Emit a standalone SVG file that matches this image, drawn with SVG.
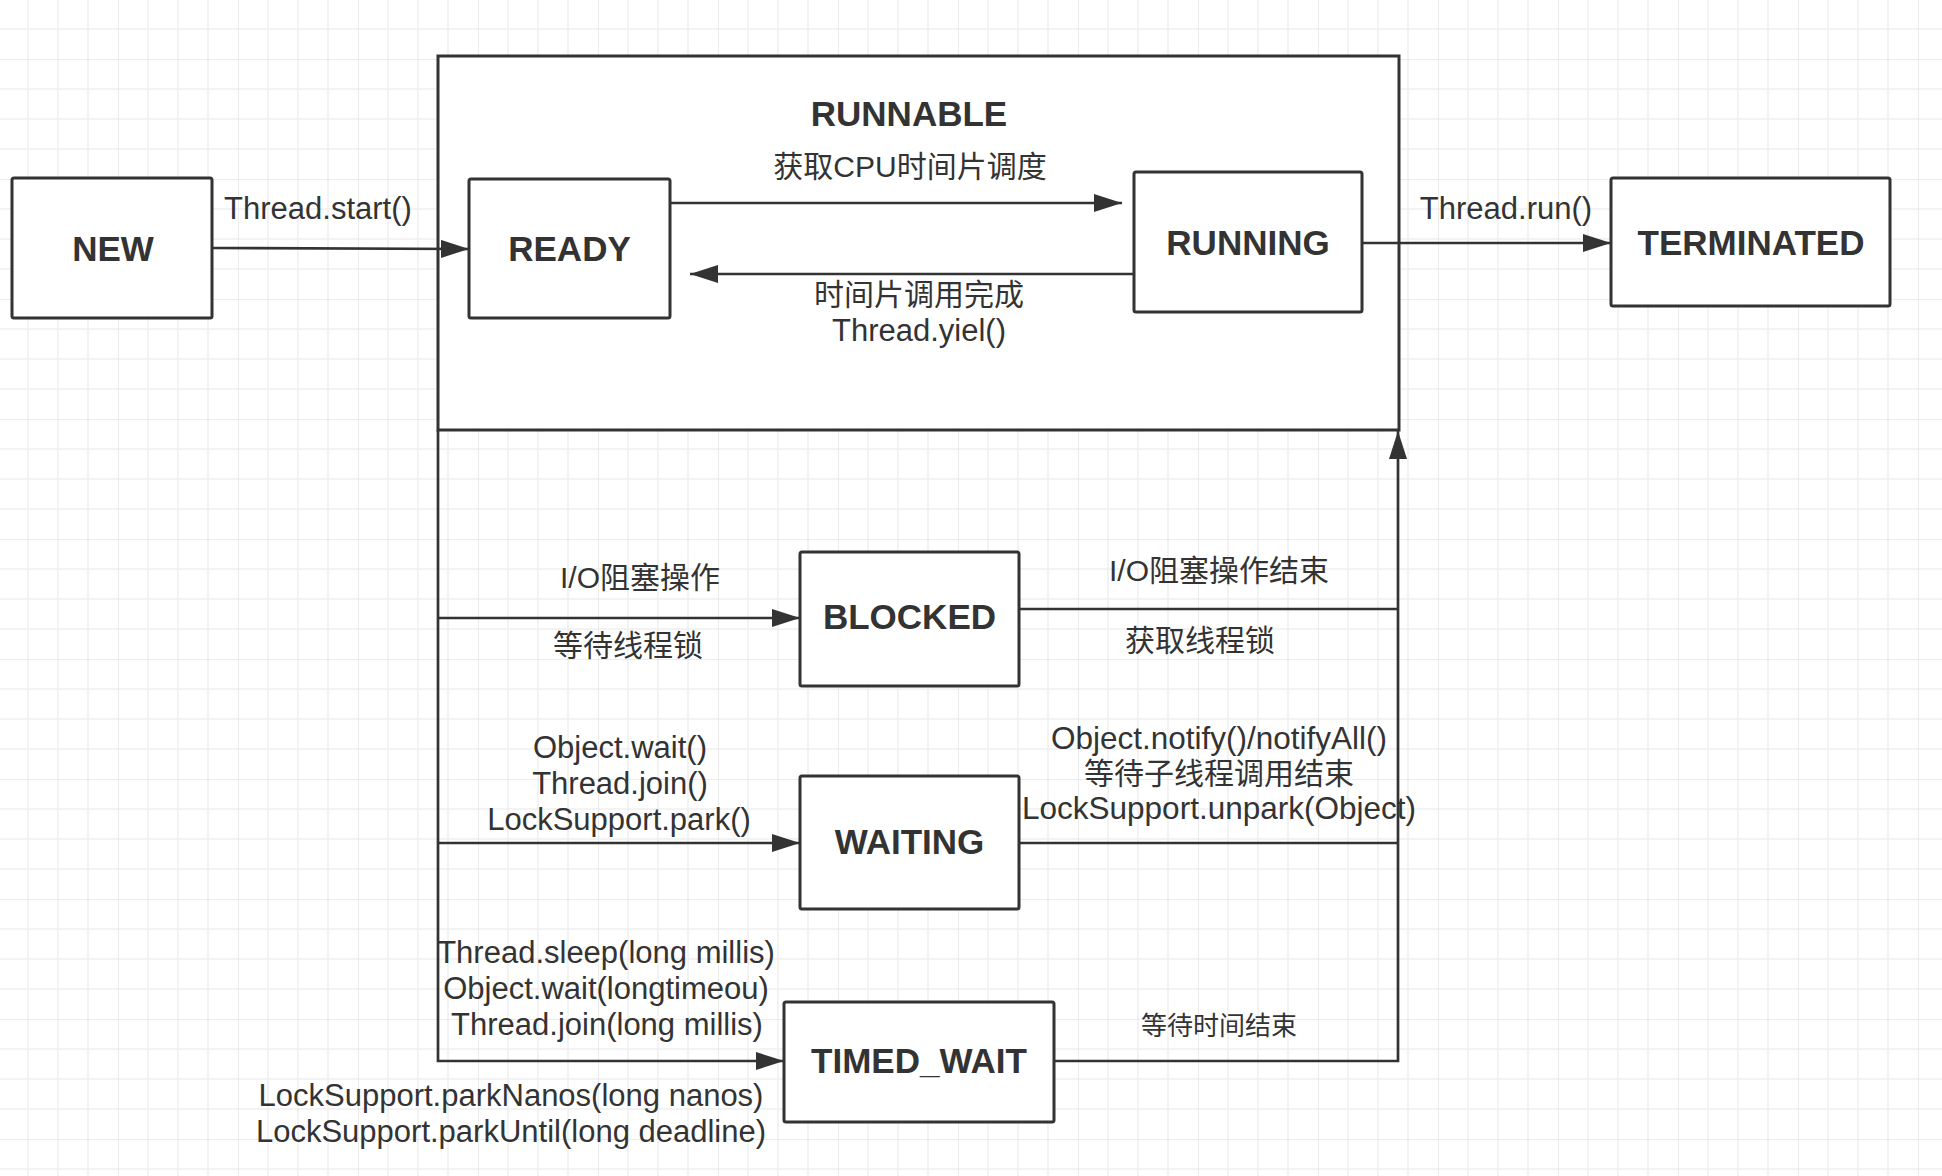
<svg xmlns="http://www.w3.org/2000/svg" width="1942" height="1176" viewBox="0 0 1942 1176">
<style>
.box{fill:#ffffff;stroke:#333333;stroke-width:3}
.node{font-family:"Liberation Sans",Arial,sans-serif;font-weight:bold;font-size:35px;fill:#333333;text-anchor:middle}
.lbl{font-family:"Liberation Sans","Noto Sans CJK SC",sans-serif;font-size:30px;fill:#333333;text-anchor:middle}
.lat{font-size:31px}
.latw{font-size:31.5px}
.sm{font-size:26px}
.edge{fill:none;stroke:#333333;stroke-width:2.7}
</style>
<defs>
<pattern id="grid" patternUnits="userSpaceOnUse" x="118" y="59" width="120" height="120">
<path d="M30,0V120M60,0V120M90,0V120M0,30H120M0,60H120M0,90H120" stroke="#f0f0f0" stroke-width="1.5" fill="none"/>
<path d="M0,0V120M0,0H120" stroke="#e6e6e6" stroke-width="1.5" fill="none"/>
</pattern>
<marker id="arr" markerUnits="userSpaceOnUse" markerWidth="28" markerHeight="18" refX="28" refY="9" orient="auto">
<path d="M0,0L28,9L0,18z" fill="#333333"/>
</marker>
</defs>
<rect width="1942" height="1176" fill="#ffffff"/>
<rect width="1942" height="1176" fill="url(#grid)"/>

<g id="runnable">
<rect class="box" x="438" y="56" width="961" height="374"/>
<text class="node" x="909" y="126">RUNNABLE</text>
</g>

<g id="connectors">
<path class="edge" d="M212,248L469,249" marker-end="url(#arr)"/>
<path class="edge" d="M670,203L1122,203" marker-end="url(#arr)"/>
<path class="edge" d="M1134,274L690,274" marker-end="url(#arr)"/>
<path class="edge" d="M1362,243L1611,243" marker-end="url(#arr)"/>
<path class="edge" d="M438,430L438,1061L784,1061" marker-end="url(#arr)"/>
<path class="edge" d="M438,618L800,618" marker-end="url(#arr)"/>
<path class="edge" d="M438,843L800,843" marker-end="url(#arr)"/>
<path class="edge" d="M1019,609L1398,609"/>
<path class="edge" d="M1019,843L1398,843"/>
<path class="edge" d="M1054,1061L1398,1061L1398,431" marker-end="url(#arr)"/>
<text class="lbl lat" x="318" y="219">Thread.start()</text>
<text class="lbl" x="910" y="177">获取CPU时间片调度</text>
<text class="lbl" x="919" y="305">时间片调用完成</text>
<text class="lbl lat" x="919" y="341">Thread.yiel()</text>
<text class="lbl lat" x="1506" y="219">Thread.run()</text>
<text class="lbl" x="640" y="588">I/O阻塞操作</text>
<text class="lbl" x="628" y="656">等待线程锁</text>
<text class="lbl lat" x="620" y="758">Object.wait()</text>
<text class="lbl lat" x="620" y="794">Thread.join()</text>
<text class="lbl lat" x="619" y="830">LockSupport.park()</text>
<text class="lbl" x="1219" y="581">I/O阻塞操作结束</text>
<text class="lbl" x="1200" y="651">获取线程锁</text>
<text class="lbl latw" x="1219" y="749">Object.notify()/notifyAll()</text>
<text class="lbl" x="1219" y="784">等待子线程调用结束</text>
<text class="lbl latw" x="1219" y="819">LockSupport.unpark(Object)</text>
<text class="lbl lat" x="606" y="963">Thread.sleep(long millis)</text>
<text class="lbl lat" x="606" y="999">Object.wait(longtimeou)</text>
<text class="lbl lat" x="607" y="1035">Thread.join(long millis)</text>
<text class="lbl lat" x="511" y="1106">LockSupport.parkNanos(long nanos)</text>
<text class="lbl lat" x="511" y="1142">LockSupport.parkUntil(long deadline)</text>
<text class="lbl sm" x="1219" y="1035">等待时间结束</text>
</g>

<g id="new">
<rect class="box" x="12" y="178" width="200" height="140" rx="2"/>
<text class="node" x="113" y="261">NEW</text>
</g>
<g id="ready">
<rect class="box" x="469" y="179" width="201" height="139" rx="2"/>
<text class="node" x="569.5" y="261">READY</text>
</g>
<g id="running">
<rect class="box" x="1134" y="172" width="228" height="140" rx="2"/>
<text class="node" x="1248" y="255">RUNNING</text>
</g>
<g id="terminated">
<rect class="box" x="1611" y="178" width="279" height="128" rx="2"/>
<text class="node" x="1751" y="255">TERMINATED</text>
</g>
<g id="blocked">
<rect class="box" x="800" y="552" width="219" height="134" rx="2"/>
<text class="node" x="909.5" y="629">BLOCKED</text>
</g>
<g id="waiting">
<rect class="box" x="800" y="776" width="219" height="133" rx="2"/>
<text class="node" x="909.5" y="854">WAITING</text>
</g>
<g id="timed_wait">
<rect class="box" x="784" y="1002" width="270" height="120" rx="2"/>
<text class="node" x="919" y="1073">TIMED_WAIT</text>
</g>
</svg>
